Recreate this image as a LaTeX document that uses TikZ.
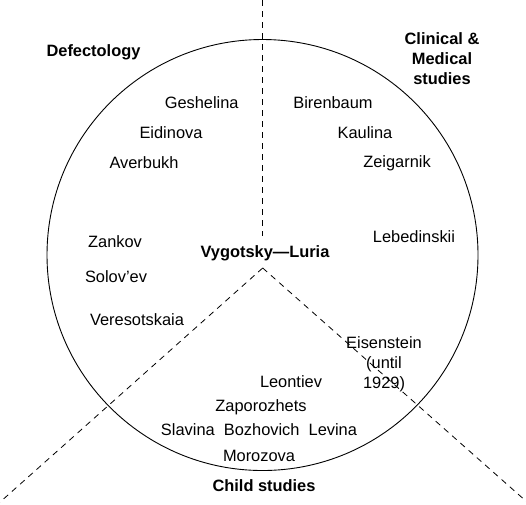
\documentclass[tikz,border=0pt]{standalone}
\usepackage{fontspec}
\setmainfont{Liberation Sans}
\begin{document}
\begin{tikzpicture}[x=1pt,y=-1pt,
  person/.style={font=\fontsize{16.4}{20}\selectfont, inner sep=0pt, align=center},
  head/.style={font=\fontsize{16.4}{20}\selectfont\bfseries, inner sep=0pt, align=center},
  divider/.style={dashed, dash pattern=on 6pt off 5pt, line width=0.8pt},
  ring/.style={draw, circle, line width=0.9pt, minimum size=431pt, inner sep=0pt}]
\useasboundingbox (0,0) rectangle (526,504);
\node[ring] (circ) at (262.5,255) {};
\coordinate (top) at (262,0);
\coordinate (topend) at (262,236);
\coordinate (apex) at (262.7,268);
\coordinate (bl) at (-1,503);
\coordinate (br) at (527,502);
\draw[divider] (top) -- (topend);
\draw[divider] (apex) -- (bl);
\draw[divider] (apex) -- (br);

\node[head] (defect) at (93.5,52) {Defectology};
\node[head] (clin) at (442,59) {Clinical \&\\Medical\\studies};
\node[head] (vl) at (265,253) {Vygotsky—Luria};
\node[head] (child) at (264,486) {Child studies};

\node[person] (gesh) at (201.7,103) {Geshelina};
\node[person] (eid) at (171,133) {Eidinova};
\node[person] (aver) at (144,163) {Averbukh};
\node[person] (zank) at (115,242) {Zankov};
\node[person] (solov) at (116,277) {Solov'ev};
\node[person] (veres) at (137,320) {Veresotskaia};

\node[person] (biren) at (333,103) {Birenbaum};
\node[person] (kaul) at (365,133) {Kaulina};
\node[person] (zeig) at (397,163) {Zeigarnik};
\node[person] (lebed) at (414,237) {Lebedinskii};
\node[person] (eisen) at (384,364) {Eisenstein\\(until\\1929)};

\node[person] (leon) at (291,382) {Leontiev};
\node[person] (zapo) at (261,407) {Zaporozhets};
\node[person] (sbl) at (259,430) {Slavina\ \ Bozhovich\ \ Levina};
\node[person] (moro) at (259,456) {Morozova};
\end{tikzpicture}
\end{document}
